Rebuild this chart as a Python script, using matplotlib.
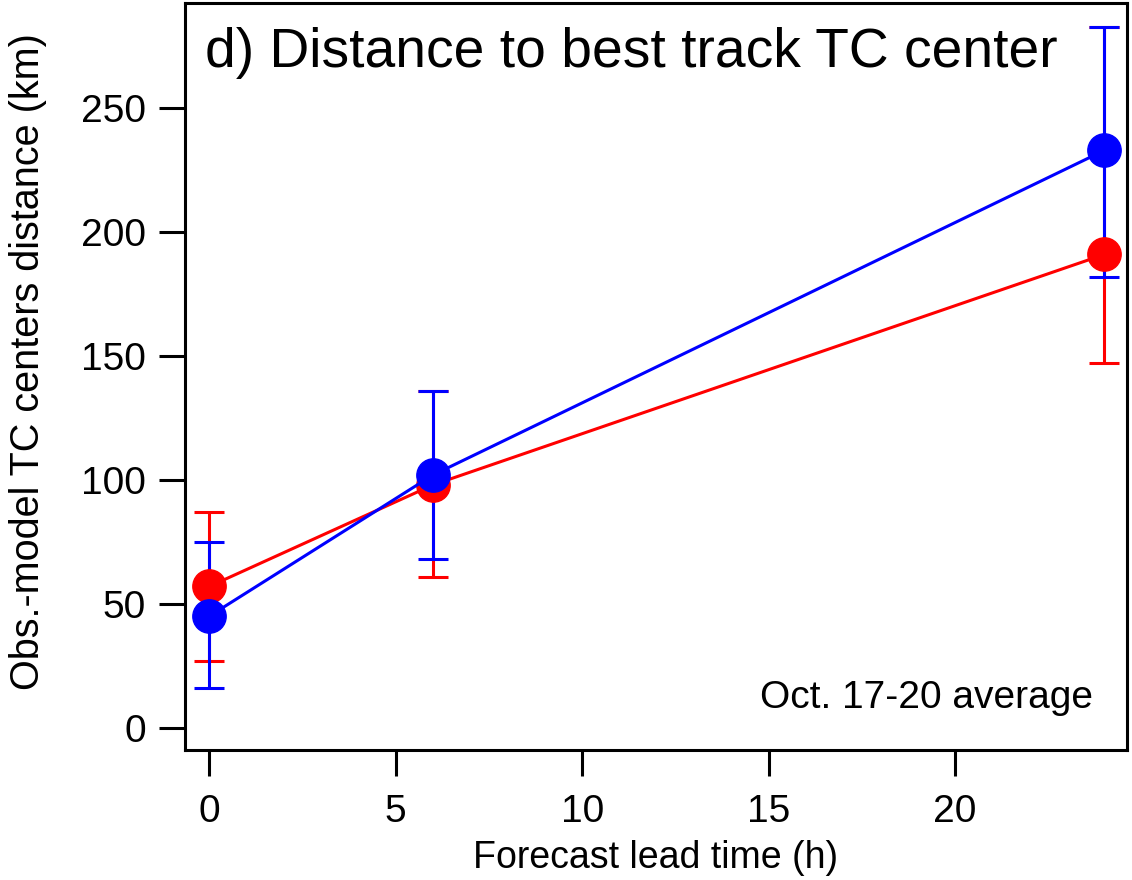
import matplotlib
matplotlib.use('Agg')
import matplotlib.pyplot as plt

# Forecast lead times (h)
lead_time = [0, 6, 24]

# Red experiment: mean distance and error bar limits (km)
red_mean = [57, 98, 191]
red_low = [27, 61, 147]
red_high = [87, 136, 283]

# Blue experiment
blue_mean = [45, 102, 233]
blue_low = [16, 68, 182]
blue_high = [75, 136, 283]

plt.rcParams['font.family'] = ['Liberation Sans', 'DejaVu Sans']

fig = plt.figure(figsize=(11.32, 8.8), dpi=100)
ax = fig.add_axes([0.1634, 0.1477, 0.8319, 0.8489])

for mean, low, high, color in [(red_mean, red_low, red_high, 'red'),
                               (blue_mean, blue_low, blue_high, 'blue')]:
    yerr = [[m - l for m, l in zip(mean, low)], [h - m for m, h in zip(mean, high)]]
    ax.errorbar(lead_time, mean, yerr=yerr, color=color, ecolor=color,
                elinewidth=2.2, capsize=11, capthick=2.2, linewidth=2.2,
                marker='o', markersize=24)

ax.set_xlim(-0.65, 24.6)
ax.set_ylim(-9, 292.5)
ax.set_xticks([0, 5, 10, 15, 20])
ax.set_yticks([0, 50, 100, 150, 200, 250])

for side in ['left', 'bottom', 'top', 'right']:
    ax.spines[side].set_linewidth(2.2)
ax.tick_params(direction='out', length=19, width=2.2, labelsize=28,
               top=False, right=False)
ax.tick_params(axis='y', pad=9)
ax.tick_params(axis='x', pad=13)

ax.set_xlabel('Forecast lead time (h)', fontsize=27)
ax.set_ylabel('Obs.-model TC centers distance (km)', fontsize=28.5)
ax.xaxis.set_label_coords(0.5, -0.121)
ax.yaxis.set_label_coords(-0.146, 0.52)

ax.text(0.021, 0.914, 'd) Distance to best track TC center', transform=ax.transAxes,
        fontsize=39.7, ha='left', va='baseline')
ax.text(0.964, 0.056, 'Oct. 17-20 average', transform=ax.transAxes,
        fontsize=28, ha='right', va='baseline')

fig.savefig('out.png', dpi=100)
